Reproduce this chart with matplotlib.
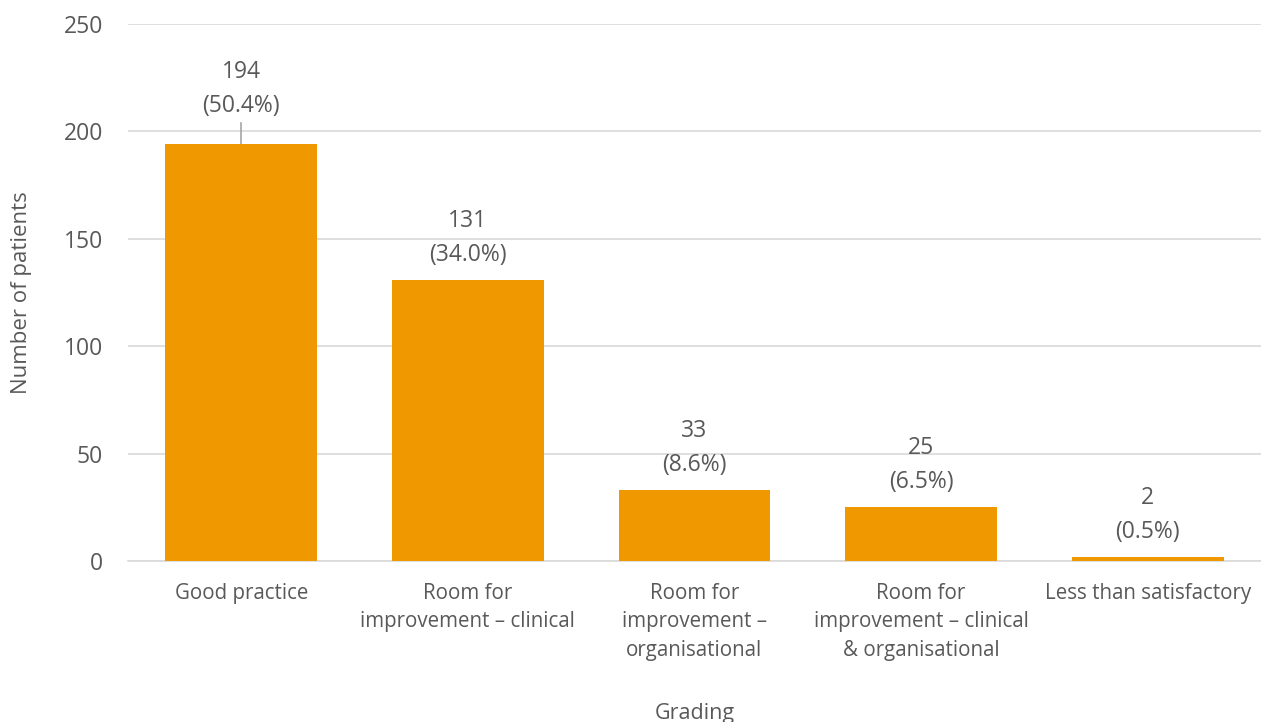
import matplotlib.pyplot as plt

categories = ["Good practice",
              "Room for\nimprovement \u2013 clinical",
              "Room for\nimprovement \u2013\norganisational",
              "Room for\nimprovement \u2013 clinical\n& organisational",
              "Less than satisfactory"]
patients = [194, 131, 33, 25, 2]
percents = ["50.4%", "34.0%", "8.6%", "6.5%", "0.5%"]

plt.rcParams['font.family'] = ['Open Sans', 'DejaVu Sans']
grey = '#595959'

fig = plt.figure(figsize=(12.61, 7.22), dpi=100)
ax = fig.add_axes([0.1015, 0.223, 0.8985, 0.744])

x = range(len(categories))
ax.bar(x, patients, width=0.67, color='#F09800', zorder=3)

for i, (v, p) in enumerate(zip(patients, percents)):
    if i == 0:
        # first label sits higher, with a leader line down to the bar
        ax.plot([i, i], [v, v + 10], color='#A6A6A6', lw=1.2, zorder=2)
        ax.text(i, v + 12, f"{v}\n({p})", ha='center', va='bottom',
                fontsize=16.5, color=grey, linespacing=1.6)
    else:
        ax.text(i, v + 6, f"{v}\n({p})", ha='center', va='bottom',
                fontsize=16.5, color=grey, linespacing=1.55)

ax.set_xlim(-0.5, 4.5)
ax.set_ylim(0, 250)
ax.set_yticks(range(0, 251, 50))
ax.set_xticks(list(x))
ax.set_xticklabels(categories, fontsize=14.8, color=grey, linespacing=1.45)
ax.tick_params(axis='y', labelsize=16.5, labelcolor=grey, length=0, pad=18)
ax.tick_params(axis='x', length=0, pad=16)
ax.yaxis.grid(True, color='#D9D9D9', lw=1.2, zorder=0)
for s in ['top', 'right', 'left']:
    ax.spines[s].set_visible(False)
ax.spines['bottom'].set_color('#D9D9D9')
ax.spines['bottom'].set_linewidth(1.2)

ax.set_ylabel("Number of patients", fontsize=16, color=grey, va='center')
ax.yaxis.set_label_coords(-0.0936, 0.5)
ax.set_xlabel("Grading", fontsize=15.5, color=grey, va='center')
ax.xaxis.set_label_coords(0.5, -0.284)

fig.savefig("out.png", dpi=100)
